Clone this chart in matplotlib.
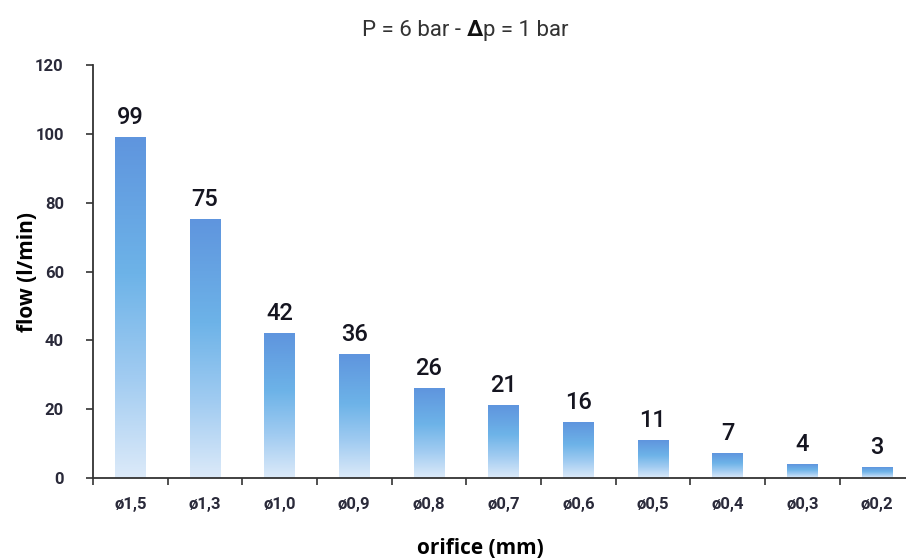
import matplotlib
matplotlib.use('Agg')
import matplotlib.pyplot as plt
import numpy as np
from matplotlib.colors import LinearSegmentedColormap

plt.rcParams['font.family'] = ['Roboto', 'DejaVu Sans']

orifices = ['ø1,5', 'ø1,3', 'ø1,0', 'ø0,9', 'ø0,8', 'ø0,7', 'ø0,6', 'ø0,5', 'ø0,4', 'ø0,3', 'ø0,2']
flow = [99, 75, 42, 36, 26, 21, 16, 11, 7, 4, 3]

grad = LinearSegmentedColormap.from_list(
    'bar_grad', [(0.0, '#dceaf9'), (0.3, '#a0cbf1'), (0.6, '#6db3e8'), (1.0, '#5f95de')])

fig = plt.figure(figsize=(9.06, 5.59), dpi=100)
ax = fig.add_axes([0.1026, 0.1449, 0.9, 0.7388])

x = np.arange(len(orifices))
bars = ax.bar(x, flow, width=0.41, color='none', edgecolor='none', zorder=2)

# vertical gradient inside each bar
g = np.linspace(0, 1, 256).reshape(-1, 1)
for b in bars:
    x0, w, h = b.get_x(), b.get_width(), b.get_height()
    ax.imshow(g, cmap=grad, origin='lower', aspect='auto',
              extent=(x0, x0 + w, 0, h), zorder=2, interpolation='bilinear')

for xi, v in zip(x, flow):
    ax.text(xi, v + 2.5, str(v), ha='center', va='bottom', fontsize=17,
            fontweight='medium', color='#151520')

ax.set_xlim(-0.5, 10.42)
ax.set_ylim(0, 120)
ax.set_yticks(np.arange(0, 121, 20))
ax.set_xticks(x)
ax.set_xticklabels(orifices, fontsize=12, fontweight='bold', color='#2a2a3a')
ax.set_xticks(np.arange(-0.5, 10, 1), minor=True)
ax.tick_params(axis='x', which='major', length=0, pad=14)
ax.tick_params(axis='x', which='minor', length=5, width=1.2, direction='out', color='#333333')
ax.tick_params(axis='y', length=5, width=1.2, direction='out', color='#333333', pad=16)
for lab in ax.get_yticklabels():
    lab.set_fontsize(12)
    lab.set_fontweight('bold')
    lab.set_color('#2a2a3a')

for s in ['top', 'right']:
    ax.spines[s].set_visible(False)
for s in ['left', 'bottom']:
    ax.spines[s].set_linewidth(1.3)
    ax.spines[s].set_color('#333333')

ax.set_xlabel('orifice (mm)', fontsize=15, fontweight='bold', fontfamily=['Open Sans', 'DejaVu Sans'])
ax.set_ylabel('flow (l/min)', fontsize=15, fontweight='bold', fontfamily=['Open Sans', 'DejaVu Sans'])
ax.xaxis.set_label_coords(0.4746, -0.145)
ax.yaxis.set_label_coords(-0.068, 0.5)

# title with bold delta
t1 = fig.text(0.4, 0.935, 'P = 6 bar - ', fontsize=16, color='#333333', va='baseline')
t2 = ax.annotate('Δ', xy=(1, 0), xycoords=t1, fontsize=16, fontweight='bold',
                 color='#111111', va='bottom', ha='left', annotation_clip=False)
t3 = ax.annotate('p = 1 bar', xy=(1, 0), xycoords=t2, fontsize=16,
                 color='#333333', va='bottom', ha='left', annotation_clip=False)

fig.savefig('out.png', dpi=100)
